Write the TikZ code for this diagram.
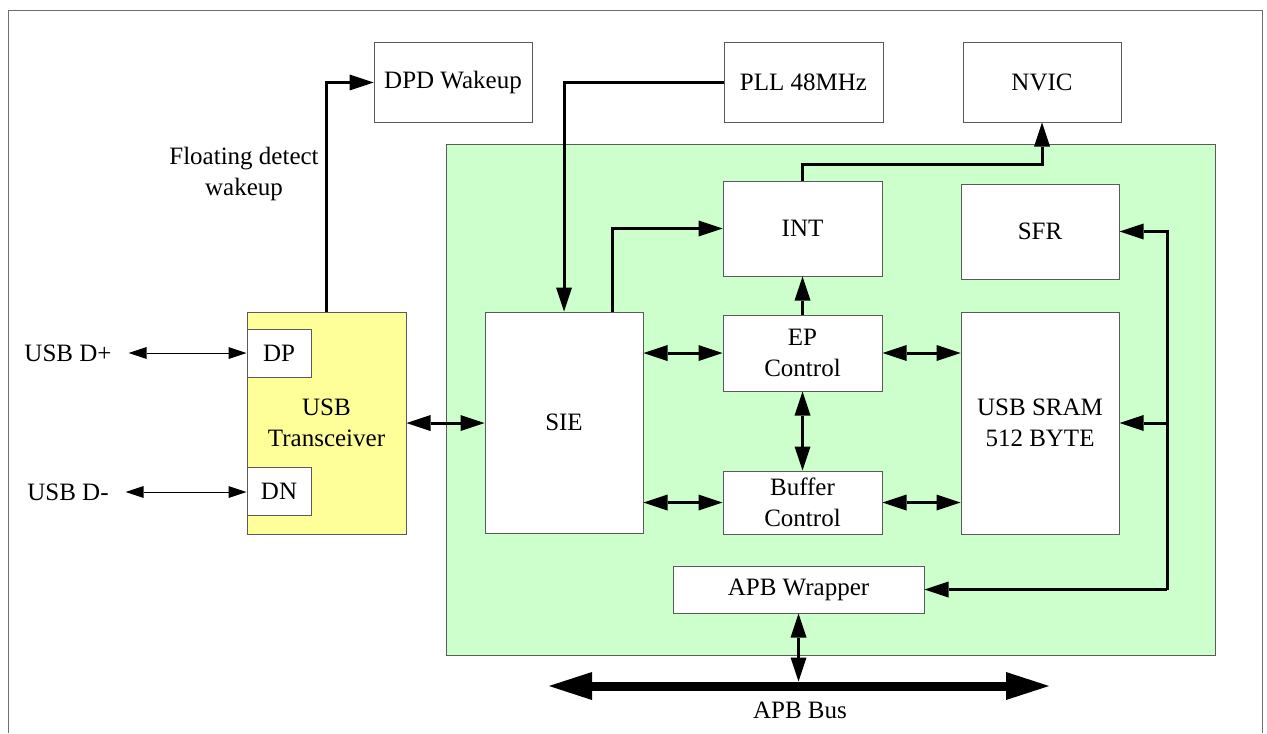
\documentclass[tikz,border=0pt]{standalone}
\usepackage{fontspec}
\setmainfont{Liberation Serif}
\usepackage{xcolor}
\definecolor{usbGreen}{RGB}{204, 255, 204}
\definecolor{usbYellow}{RGB}{255, 255, 153}
\definecolor{usbGray}{RGB}{90, 90, 90}
\definecolor{frameGray}{RGB}{110, 110, 110}
\usepackage{tikz}
\usetikzlibrary{arrows.meta, positioning}
\newcommand{\blkfont}{\fontsize{12.5}{15.5}\selectfont}

\begin{document}
\begin{tikzpicture}[x=0.5pt, y=-0.5pt,
  blk/.style={rectangle, draw=usbGray, fill=white, line width=0.5pt,
              minimum width=79pt, align=center, font=\blkfont, inner sep=1pt},
  lbl/.style={align=center, font=\blkfont, inner sep=0pt},
  arrow/.style={-{Triangle[length=12pt, width=8pt, line width=0pt]}, line width=1.5pt},
  dblarrow/.style={{Triangle[length=12pt, width=8pt, line width=0pt]}-{Triangle[length=12pt, width=8pt, line width=0pt]},
                   line width=1.5pt},
  thinarrow/.style={{Triangle[length=9pt, width=6pt, line width=0pt]}-{Triangle[length=9pt, width=6pt, line width=0pt]},
                    line width=0.5pt},
  busarrow/.style={{Triangle[length=21.5pt, width=14pt, line width=0pt]}-{Triangle[length=21.5pt, width=14pt, line width=0pt]},
                   line width=4.5pt},
]
  \useasboundingbox (0,0) rectangle (1267,733);
  \draw[frameGray, line width=0.5pt] (8,733) -- (8,11) -- (1262,11) -- (1262,733);

  \node[blk, minimum height=39.5pt] (dpd) at (453,82.5) {DPD Wakeup};
  \node[blk, minimum height=40pt, minimum width=79.5pt, right=95.5pt of dpd] (pll) {PLL 48MHz};
  \node[blk, minimum height=39.5pt, right=39.5pt of pll] (nvic) {NVIC};

  \draw[draw=usbGray, fill=usbGreen, line width=0.5pt] (446,144) rectangle (1215,655);

  \node[blk, minimum height=110.5pt] (sie) at (564,422.5) {SIE};
  \node[blk, minimum height=38pt, minimum width=79.5pt] (ep) at (802.5,353) {EP\\Control};
  \node[blk, minimum height=47.5pt, minimum width=79.5pt, above=19pt of ep] (int) {INT};
  \node[blk, minimum height=31.5pt, minimum width=79.5pt, below=39.5pt of ep] (buf) {Buffer\\Control};
  \node[blk, minimum height=111pt] (sram) at (1040,423) {USB SRAM\\512 BYTE};
  \node[blk, minimum height=47.5pt, above=16pt of sram] (sfr) {SFR};
  \node[blk, minimum height=23.5pt, minimum width=125.5pt] (apbw) at (798.5,589.5) {APB Wrapper};

  \node[blk, fill=usbYellow, minimum height=111pt, minimum width=79.5pt] (xcvr) at (326.5,423) {USB\\Transceiver};
  \node[blk, minimum width=32pt, minimum height=24pt, anchor=north west] (dp)
    at ([yshift=-8.5pt]xcvr.north west) {DP};
  \node[blk, minimum width=32pt, minimum height=24pt, anchor=south west] (dn)
    at ([yshift=9.5pt]xcvr.south west) {DN};

  \node[lbl, outer sep=8.5pt] (usbdp) at (68,353) {USB D+};
  \node[lbl, outer sep=8.5pt] (usbdm) at (68,492) {USB D-};
  \node[lbl] (floatlbl) at (244,174) {Floating detect\\wakeup};
  \node[lbl] (apbbus) at (800,710) {APB Bus};

  \draw[arrow] (xcvr.north) |- (dpd.west);
  \draw[thinarrow] (usbdp.east) -- (usbdp.east -| dp.west);
  \draw[thinarrow] (usbdm.east) -- (usbdm.east -| dn.west);
  \draw[dblarrow] (xcvr) -- (xcvr -| sie.west);
  \draw[arrow] (pll.west) -| (sie.north);
  \draw[arrow] ([xshift=24pt]sie.north) |- (int.west);
  \coordinate (nvicbend) at (1040,164);
  \draw[arrow] (int.north) |- (nvic.south |- nvicbend) -- (nvic.south);
  \draw[arrow] (ep) -- (int);
  \draw[dblarrow] (ep) -- (buf);
  \draw[dblarrow] (ep.west -| sie.east) -- (ep.west);
  \draw[dblarrow] (buf.west -| sie.east) -- (buf.west);
  \draw[dblarrow] (ep.east) -- (ep.east -| sram.west);
  \draw[dblarrow] (buf.east) -- (buf.east -| sram.west);

  \coordinate (busx) at (1167,590);
  \draw[arrow] (apbw.east -| busx) |- (sfr.east);
  \draw[arrow] (apbw.east -| busx) -- (apbw.east);
  \draw[arrow] (sram.east -| busx) -- (sram.east);

  \coordinate (busl) at (549,686);
  \coordinate (busr) at (1049,686);
  \draw[busarrow] (busl) -- (busr);
  \draw[dblarrow] (apbw.south) -- ([yshift=2.25pt]apbw.south |- busl);
\end{tikzpicture}
\end{document}
